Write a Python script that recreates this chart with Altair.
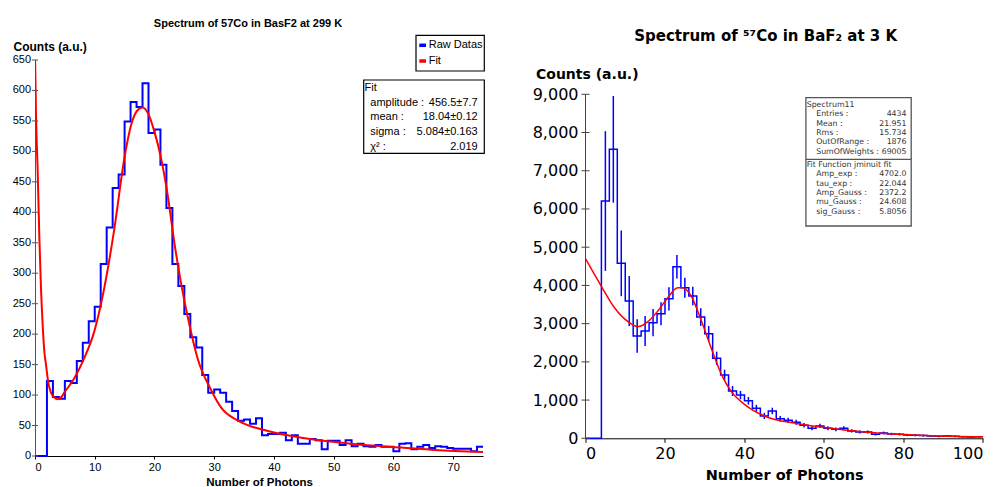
import altair as alt
import pandas as pd

# ---------------- data: left panel (57Co in BaF2, 299 K) ----------------
left_bin_width = 1
left_counts = [0, 0, 123, 97, 94, 123, 120, 156, 186, 221,
               245, 315, 375, 440, 462, 549, 581, 573, 612, 530,
               536, 478, 407, 315, 279, 233, 195, 178, 133, 104,
               109, 104, 89, 74, 58, 60, 53, 62, 34, 36,
               36, 38, 26, 34, 20, 20, 28, 26, 11, 25,
               25, 18, 26, 16, 20, 16, 15, 18, 15, 15,
               8, 20, 21, 11, 15, 18, 13, 16, 15, 13,
               12, 12, 12, 8, 15]
left_fit_x = [0, 0.17, 0.45, 0.73, 1.0, 1.28, 1.56, 1.84, 2.23, 2.68, 3.24, 3.8, 4.35, 4.9,
              6.6, 8.26, 9.94, 11.6, 13.3, 14.96, 16.08, 17.2, 18.0, 18.9, 20.0, 21.1,
              22.2, 23.3, 24.5, 25.6, 27.2, 29.5, 31.2, 34.0, 39.0, 44.6, 50.2, 55.7,
              61.3, 66.9, 75.0]
left_fit_y = [660, 560, 467, 358, 276, 216, 172, 150, 120, 104, 96, 93, 96, 104,
              128, 161, 205, 276, 374, 489, 543, 568, 572, 563, 532, 489,
              429, 352, 281, 227, 161, 108, 79, 58, 41, 30, 23, 17.5,
              14, 10, 6.5]
left_x_ticks = list(range(0, 71, 10))
left_y_ticks = list(range(0, 651, 50))
left_legend_labels = ["Raw Datas", "Fit"]
left_stats_labels = ["amplitude :", "mean :", "sigma :", "χ² :"]
left_stats_values = ["456.5±7.7", "18.04±0.12", "5.084±0.163", "2.019"]

# ---------------- data: right panel (57Co in BaF2, 3 K) ----------------
right_bin_width = 2
right_counts = [0, 0, 6208, 7560, 4578, 3592, 2676, 2808, 3025, 3260,
                3650, 4489, 3941, 3723, 3173, 2737, 2093, 1657, 1238, 1130,
                980, 785, 584, 715, 514, 471, 420, 340, 262, 323,
                262, 235, 262, 192, 166, 166, 105, 140, 113, 105,
                87, 78, 70, 61, 52, 61, 52, 43, 35, 43]
right_err = [0, 0, 1828, 1395, 860, 656, 436, 392, 357, 300,
             305, 305, 262, 244, 231, 200, 175, 138, 131, 110,
             100, 90, 80, 85, 72, 68, 64, 58, 52, 56,
             50, 48, 50, 42, 40, 40, 32, 36, 33, 32,
             29, 28, 26, 24, 22, 24, 22, 20, 18, 20]
right_fit_x = [0, 4.1, 7.3, 10.7, 13.2, 15.7, 18.2, 20.7, 23.2, 24.5, 26.6, 29.1,
               31.6, 34.2, 36.7, 40, 45, 53.4, 61.8, 70.2, 78.6, 87, 100]
right_fit_y = [4699, 3958, 3417, 3051, 2920, 3051, 3331, 3679, 3941, 3941, 3723, 3087,
               2371, 1674, 1220, 889, 584, 383, 262, 166, 105, 68, 42]
right_x_ticks = list(range(0, 101, 20))
right_y_ticks = list(range(0, 9001, 1000))
right_stats_head = "Spectrum11"
right_stats_labels = ["Entries :", "Mean :", "Rms :", "OutOfRange :", "SumOfWeights :"]
right_stats_values = ["4434", "21.951", "15.734", "1876", "69005"]
right_fit_head = "Fit Function jminuit fit"
right_fit_labels = ["Amp_exp :", "tau_exp :", "Amp_Gauss :", "mu_Gauss :", "sig_Gauss :"]
right_fit_values = ["4702.0", "22.044", "2372.2", "24.608", "5.8056"]

BLUE = "#0000ff"
RED = "#ff0000"
LFONT = "Liberation Sans"
RFONT = "DejaVu Sans"


def step_frame(counts, w):
    xs = [i * w for i in range(len(counts))] + [len(counts) * w]
    ys = list(counts) + [counts[-1]]
    return pd.DataFrame({"x": xs, "y": ys})


def label(text, x, y, font, size, align="left", weight="normal", color="black"):
    return alt.Chart(pd.DataFrame({"t": [text]})).mark_text(
        font=font, fontSize=size, align=align, baseline="middle",
        fontWeight=weight, color=color
    ).encode(x=alt.value(x), y=alt.value(y), text="t:N")


def box(x1, x2, y1, y2, stroke="black", sw=1.2):
    return alt.Chart(pd.DataFrame({"a": [0]})).mark_rect(
        fill="white", stroke=stroke, strokeWidth=sw
    ).encode(x=alt.value(x1), x2=alt.value(x2), y=alt.value(y1), y2=alt.value(y2))


def hline(x1, x2, y, color, sw):
    return alt.Chart(pd.DataFrame({"a": [0]})).mark_rule(
        color=color, strokeWidth=sw
    ).encode(x=alt.value(x1), x2=alt.value(x2), y=alt.value(y))


# ---------------- left panel ----------------
LW, LH = 448, 396
lx = alt.X("x:Q", scale=alt.Scale(domain=[0, 75], nice=False, zero=False),
           axis=alt.Axis(values=left_x_ticks, grid=False, title="Number of Photons",
                         titleFont=LFONT, titleFontSize=11.5, titleFontWeight="bold",
                         titleColor="black", titleX=LW / 2, titleY=26, titleBaseline="middle",
                         labelFont=LFONT, labelFontSize=11, labelColor="black", labelOverlap=False,
                         labelPadding=2, tickSize=3, domainColor="black", tickColor="black"))
ly = alt.Y("y:Q", scale=alt.Scale(domain=[0, 650], nice=False),
           axis=alt.Axis(values=left_y_ticks, grid=False, labels=False, ticks=False,
                         title="Counts (a.u.)",
                         titleAngle=0, titleAlign="left", titleBaseline="middle",
                         titleX=-22, titleY=-14, titleFont=LFONT, titleFontSize=12,
                         titleFontWeight="bold", titleColor="black",
                         domainColor="#555"))

left_hist = alt.Chart(step_frame(left_counts, left_bin_width)).mark_line(
    interpolate="step-after", color=BLUE, strokeWidth=2).encode(x=lx, y=ly)
left_fit = alt.Chart(pd.DataFrame({"x": left_fit_x, "y": left_fit_y})).mark_line(
    interpolate="monotone", color=RED, strokeWidth=2, clip=True).encode(x=lx, y=ly)
left_tick_df = pd.DataFrame({"y": left_y_ticks, "t": [str(v) for v in left_y_ticks]})
left_yticks = alt.Chart(left_tick_df).mark_rule(color="#555", strokeWidth=1).encode(
    x=alt.value(-3), x2=alt.value(3), y=ly)
left_ylabels = alt.Chart(left_tick_df).mark_text(
    font=LFONT, fontSize=11, align="right", baseline="middle", color="black").encode(
    x=alt.value(-4), y=ly, text="t:N")

left_layers = [left_hist, left_fit, left_yticks, left_ylabels,
               label("Spectrum of 57Co in BasF2 at 299 K", 213, -36.3, LFONT, 11,
                     align="center", weight="bold"),
               box(381, 449.3, -24.7, 11),
               hline(384.3, 391, -14.7, BLUE, 3.5),
               hline(384.3, 391, 1, RED, 3.5),
               label(left_legend_labels[0], 393.7, -14.7, LFONT, 11),
               label(left_legend_labels[1], 393.7, 1, LFONT, 11),
               box(328.7, 449.3, 20, 93.3),
               label("Fit", 329.5, 28.3, LFONT, 11)]
for i, (a, b) in enumerate(zip(left_stats_labels, left_stats_values)):
    yy = 42.7 + i * 14.67
    left_layers.append(label(a, 335.3, yy, LFONT, 11))
    left_layers.append(label(b, 442.7, yy, LFONT, 11, align="right"))

left = alt.layer(*left_layers).properties(width=LW, height=LH)

# ---------------- right panel ----------------
RW, RH = 397.4, 378.3
R_TOP = 9000 * RH / 344.0
rx = alt.X("x:Q", scale=alt.Scale(domain=[0, 100], nice=False, zero=False),
           axis=alt.Axis(values=right_x_ticks, tickCount=6, grid=False, title="Number of Photons",
                         titleFont=RFONT, titleFontSize=14.5, titleFontWeight="bold",
                         titleColor="black", titleX=RW / 2, titleY=36.7, titleBaseline="middle",
                         labelFont=RFONT, labelFontSize=16, labelColor="black", labelOverlap=False,
                         labelPadding=3, tickSize=4, domainColor="black", tickColor="black"))
ry = alt.Y("y:Q", scale=alt.Scale(domain=[0, R_TOP], nice=False),
           axis=alt.Axis(values=right_y_ticks, tickCount=10, format=",.0f", grid=False, domain=False,
                         ticks=False,
                         title="Counts (a.u.)", titleAngle=0, titleAlign="left",
                         titleBaseline="middle", titleX=-50, titleY=14.3,
                         titleFont=RFONT, titleFontSize=14, titleFontWeight="bold",
                         titleColor="black", labelFont=RFONT, labelFontSize=16, labelOverlap=False,
                         labelColor="black", labelPadding=7.5))

right_hist = alt.Chart(step_frame(right_counts, right_bin_width)).mark_line(
    interpolate="step-after", color=BLUE, strokeWidth=1.5).encode(x=rx, y=ry)
err_df = pd.DataFrame({
    "x": [(i + 0.5) * right_bin_width for i in range(len(right_counts))],
    "y": [c - e for c, e in zip(right_counts, right_err)],
    "y2": [c + e for c, e in zip(right_counts, right_err)],
    "e": right_err,
})
err_df = err_df[err_df["e"] > 0]
right_err_bars = alt.Chart(err_df).mark_rule(color=BLUE, strokeWidth=1.5).encode(
    x=rx, y=ry, y2="y2:Q")
right_fit = alt.Chart(pd.DataFrame({"x": right_fit_x, "y": right_fit_y})).mark_line(
    interpolate="monotone", color=RED, strokeWidth=1.5).encode(x=rx, y=ry)
right_axis_line = alt.Chart(pd.DataFrame({"x": [0], "y": [0], "y2": [9000]})).mark_rule(
    color="#444", strokeWidth=1).encode(x=rx, y=ry, y2="y2:Q")
right_yticks = alt.Chart(pd.DataFrame({"y": right_y_ticks})).mark_rule(
    color="#444", strokeWidth=1).encode(x=alt.value(-4), x2=alt.value(4), y=ry)

SF = 7.8
right_layers = [right_hist, right_err_bars, right_fit, right_axis_line, right_yticks,
                label("Spectrum of ⁵⁷Co in BaF₂ at 3 K", 180.2, -24, RFONT, 15,
                      align="center", weight="bold"),
                box(220.4, 325.7, 37.7, 166, stroke="#555", sw=1.3),
                hline(220.4, 325.7, 99.3, "#555", 1.3),
                label(right_stats_head, 221.2, 45, RFONT, SF, color="#333"),
                label(right_fit_head, 221.2, 105, RFONT, SF, color="#333")]
for i, (a, b) in enumerate(zip(right_stats_labels, right_stats_values)):
    yy = 54.3 + i * 9.35
    right_layers.append(label(a, 230.7, yy, RFONT, SF, color="#333"))
    right_layers.append(label(b, 321, yy, RFONT, SF, align="right", color="#333"))
for i, (a, b) in enumerate(zip(right_fit_labels, right_fit_values)):
    yy = 114.3 + i * 9.35
    right_layers.append(label(a, 230.7, yy, RFONT, SF, color="#333"))
    right_layers.append(label(b, 321, yy, RFONT, SF, align="right", color="#333"))

right = alt.layer(*right_layers).properties(width=RW, height=RH)

chart = alt.hconcat(left, right, spacing=102.5, bounds="flush").configure_view(
    strokeWidth=0
).properties(padding={"left": 4, "top": 9, "right": 0, "bottom": 0})

chart.save("out.html", embed_options={"renderer": "svg", "actions": False})
